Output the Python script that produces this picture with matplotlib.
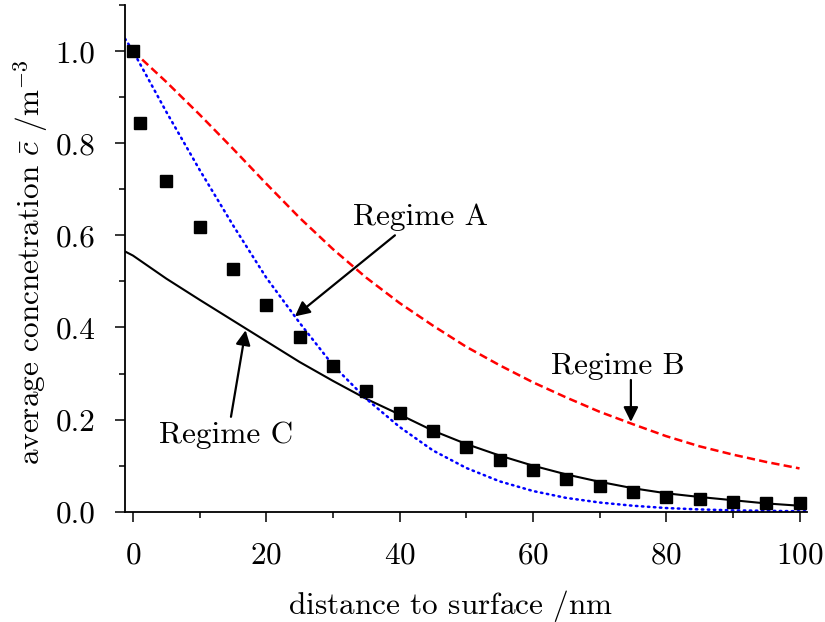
import matplotlib
matplotlib.use('Agg')
import matplotlib.pyplot as plt
from matplotlib.ticker import MultipleLocator

plt.rcParams['font.family'] = 'serif'
plt.rcParams['font.serif'] = ['cmr10']
plt.rcParams['mathtext.fontset'] = 'cm'
plt.rcParams['axes.unicode_minus'] = False
plt.rcParams['axes.formatter.use_mathtext'] = True

FS = 22.5

# measured points
x_meas = [0, 1, 5, 10, 15, 20, 25, 30, 35, 40, 45, 50, 55, 60, 65, 70, 75, 80, 85, 90, 95, 100]
c_meas = [1.0, 0.844, 0.718, 0.618, 0.527, 0.449, 0.380, 0.317, 0.262, 0.215, 0.176, 0.141,
          0.113, 0.090, 0.070, 0.055, 0.043, 0.033, 0.027, 0.022, 0.020, 0.018]

# Regime A (blue dotted)
x_a = [-1.2, 0, 5, 10, 15, 20, 25, 30, 35, 40, 45, 50, 55, 60, 65, 70, 75, 80, 85, 90, 95, 100, 101]
c_a = [1.027, 1.0, 0.868, 0.742, 0.622, 0.508, 0.410, 0.318, 0.245, 0.184, 0.133, 0.095,
       0.066, 0.045, 0.030, 0.020, 0.013, 0.008, 0.005, 0.003, 0.002, 0.001, 0.001]

# Regime B (red dashed)
x_b = [0, 5, 10, 15, 20, 25, 30, 35, 40, 45, 50, 55, 60, 65, 70, 75, 80, 85, 90, 95, 100]
c_b = [1.0, 0.933, 0.862, 0.788, 0.712, 0.638, 0.570, 0.508, 0.453, 0.404, 0.358, 0.318,
       0.281, 0.248, 0.217, 0.190, 0.164, 0.142, 0.124, 0.108, 0.094]

# Regime C (black solid)
x_c = [-1.2, 0, 5, 10, 15, 20, 25, 30, 35, 40, 45, 50, 55, 60, 65, 70, 75, 80, 85, 90, 95, 100, 101]
c_c = [0.565, 0.556, 0.506, 0.460, 0.415, 0.370, 0.325, 0.284, 0.245, 0.211, 0.176, 0.147,
       0.122, 0.100, 0.081, 0.065, 0.051, 0.040, 0.032, 0.025, 0.018, 0.013, 0.012]

fig = plt.figure(figsize=(8.25, 6.22), dpi=100)
ax = fig.add_axes([0.1515, 0.1773, 0.8265, 0.8147])

ax.plot(x_c, c_c, '-', c='black', lw=1.5)
ax.plot(x_b, c_b, c='red', lw=1.8, linestyle=(0, (3.3, 1.7)))
ax.plot(x_a, c_a, c='blue', lw=1.8, linestyle=(0, (0.6, 1.8)), dash_capstyle='round')
ax.plot(x_meas, c_meas, 's', c='black', ms=8)

arrow = dict(arrowstyle='-|>', color='black', lw=1.6, mutation_scale=22,
             shrinkA=0, shrinkB=0)
ax.annotate('', xy=(24.3, 0.424), xytext=(39.3, 0.600), arrowprops=arrow)
ax.annotate('', xy=(74.7, 0.195), xytext=(74.7, 0.286), arrowprops=arrow)
ax.annotate('', xy=(16.9, 0.394), xytext=(14.7, 0.206), arrowprops=arrow)
ax.text(43.2, 0.639, 'Regime A', fontsize=FS, ha='center', va='center')
ax.text(72.7, 0.316, 'Regime B', fontsize=FS, ha='center', va='center')
ax.text(14.0, 0.166, 'Regime C', fontsize=FS, ha='center', va='center')

ax.set_xlim(-1.2, 101.1)
ax.set_ylim(0, 1.1)
ax.xaxis.set_major_locator(MultipleLocator(20))
ax.xaxis.set_minor_locator(MultipleLocator(10))
ax.yaxis.set_major_locator(MultipleLocator(0.2))
ax.yaxis.set_minor_locator(MultipleLocator(0.1))
ax.yaxis.set_major_formatter(plt.FormatStrFormatter('%.1f'))
ax.spines['top'].set_visible(False)
ax.spines['right'].set_visible(False)
for s in ['left', 'bottom']:
    ax.spines[s].set_linewidth(1.3)
ax.tick_params(which='major', direction='out', length=7.5, width=1.1, labelsize=FS, pad=14)
ax.tick_params(which='minor', direction='out', length=4, width=1.1)

ax.set_xlabel(r'distance to surface $/\mathrm{nm}$', fontsize=FS, labelpad=13)
ax.set_ylabel(r'average concnetration $\bar{c}$ $/\mathrm{m}^{-3}$', fontsize=FS, labelpad=3)
ax.xaxis.label.set_x(0.478)
ax.yaxis.label.set_y(0.493)

fig.savefig('out.png', dpi=100)
